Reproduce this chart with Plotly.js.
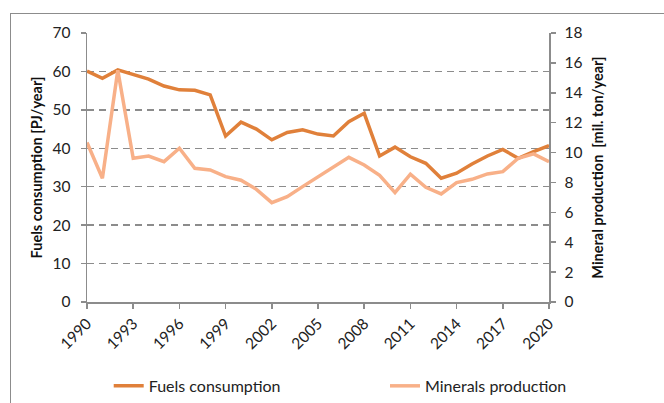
<!DOCTYPE html>
<html>
<head>
<meta charset="utf-8">
<script src="https://cdn.plot.ly/plotly-3.0.1.min.js"></script>
<style>
  html, body { margin: 0; padding: 0; overflow: hidden; background: #fff; }
  #wrap { position: relative; width: 664px; height: 403px; }
  #frame { position: absolute; left: 10px; top: 13px; width: 700px; height: 450px; border: 1.5px solid #8c8c8c; box-sizing: border-box; pointer-events: none; z-index: 2; }
  #chart { position: absolute; left: 0; top: 0; width: 664px; height: 403px; }
</style>
</head>
<body>
<div id="wrap">
  <div id="chart"></div>
  <div id="frame"></div>
</div>
<script>
const years = [1990,1991,1992,1993,1994,1995,1996,1997,1998,1999,2000,2001,2002,2003,2004,2005,2006,2007,2008,2009,2010,2011,2012,2013,2014,2015,2016,2017,2018,2019,2020];
const fuelsConsumption = [60.1,58.2,60.4,59.3,58.0,56.2,55.2,55.1,53.9,43.2,46.8,45.0,42.2,44.1,44.8,43.7,43.2,46.9,49.1,38.0,40.3,37.8,36.1,32.2,33.5,35.9,38.0,39.7,37.4,39.1,40.7];
const mineralsProduction = [10.67,8.28,15.5,9.62,9.77,9.39,10.29,8.95,8.84,8.39,8.15,7.54,6.65,7.05,7.72,8.39,9.06,9.68,9.17,8.47,7.32,8.55,7.68,7.23,7.99,8.21,8.57,8.72,9.62,9.91,9.39];
const xTicks = [1990,1993,1996,1999,2002,2005,2008,2011,2014,2017,2020];
const leftTicks = [0,10,20,30,40,50,60,70];
const rightTicks = [0,2,4,6,8,10,12,14,16,18];

const FONT = 'Lato, "Open Sans", sans-serif';
const traces = [
  { x: years, y: fuelsConsumption, type: 'scatter', mode: 'lines', name: 'Fuels consumption',
    line: { color: '#E0803A', width: 3.5 }, yaxis: 'y', legend: 'legend' },
  { x: years, y: mineralsProduction, type: 'scatter', mode: 'lines', name: 'Minerals production',
    line: { color: '#F8B088', width: 3.5 }, yaxis: 'y2', legend: 'legend2' }
];

const legendBase = { orientation: 'h', xanchor: 'left', yanchor: 'middle', y: -0.312,
  font: { family: FONT, size: 16, color: '#222' }, bgcolor: 'rgba(0,0,0,0)', itemwidth: 30 };

const layout = {
  width: 664, height: 403,
  margin: { l: 87, r: 115, t: 33, b: 101, autoexpand: false },
  paper_bgcolor: '#fff', plot_bgcolor: '#fff',
  font: { family: FONT, size: 15, color: '#222' },
  showlegend: true,
  legend: Object.assign({}, legendBase, { x: 0.047 }),
  legend2: Object.assign({}, legendBase, { x: 0.645 }),
  xaxis: {
    range: [1990, 2020], tickvals: xTicks, ticktext: xTicks.map(String), tickangle: -45,
    showgrid: false, zeroline: false, showline: true, linecolor: '#8c8c8c', linewidth: 1.5,
    ticks: 'outside', ticklen: 5, tickcolor: '#8c8c8c', tickwidth: 1.5, automargin: false,
    tickfont: { family: FONT, size: 15.5, color: '#222' }, fixedrange: true
  },
  yaxis: {
    range: [0, 70], tickvals: leftTicks, ticktext: leftTicks.map(String), automargin: false,
    showgrid: true, gridcolor: '#8c8c8c', gridwidth: 1.5, griddash: '7px,5px',
    zeroline: false, showline: true, linecolor: '#8c8c8c', linewidth: 1.5,
    ticks: 'outside', ticklen: 5, tickcolor: '#8c8c8c', tickwidth: 1.5, ticklabelstandoff: 7,
    tickfont: { family: FONT, size: 15.5, color: '#222' },
    title: { text: 'Fuels consumption [PJ/year]', font: { family: FONT, size: 14.5, color: '#111', weight: 'bold' }, standoff: 6 }
  },
  yaxis2: {
    range: [0, 18], tickvals: rightTicks, ticktext: rightTicks.map(String), overlaying: 'y', side: 'right',
    showgrid: false, zeroline: false, showline: true, linecolor: '#8c8c8c', linewidth: 1.5, automargin: false,
    ticks: 'outside', ticklen: 5, tickcolor: '#8c8c8c', tickwidth: 1.5, ticklabelstandoff: 6,
    tickfont: { family: FONT, size: 15.5, color: '#222' },
    title: { text: 'Mineral production\u00a0 [mil. ton/year]', font: { family: FONT, size: 14.5, color: '#111', weight: 'bold' }, standoff: 11 }
  }
};

Plotly.newPlot('chart', traces, layout, { displayModeBar: false, staticPlot: true });
</script>
</body>
</html>
